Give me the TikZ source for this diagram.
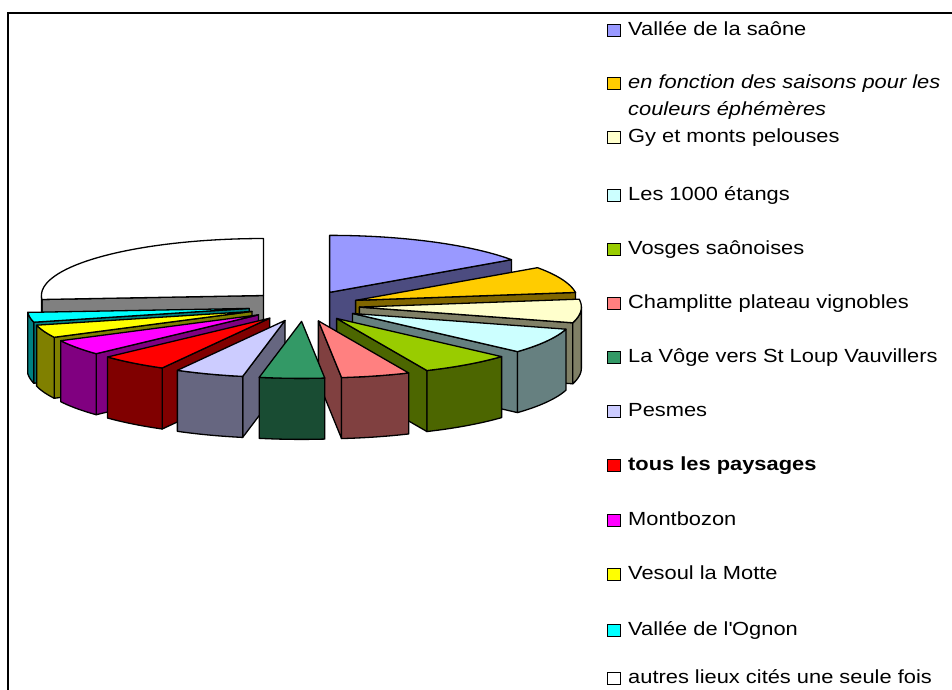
\documentclass[tikz,border=0pt]{standalone}
\usepackage{fontspec}
\setmainfont{Liberation Sans}[FakeStretch=1.15]
\usepackage{tikz}

\definecolor{saone}{HTML}{9999FF}
\definecolor{saisons}{HTML}{FFCC00}
\definecolor{gy}{HTML}{FFFFCC}
\definecolor{etangs}{HTML}{CCFFFF}
\definecolor{vosges}{HTML}{99CC00}
\definecolor{champlitte}{HTML}{FF8080}
\definecolor{voge}{HTML}{339966}
\definecolor{pesmes}{HTML}{CCCCFF}
\definecolor{tous}{HTML}{FF0000}
\definecolor{montbozon}{HTML}{FF00FF}
\definecolor{vesoul}{HTML}{FFFF00}
\definecolor{ognon}{HTML}{00FFFF}
\definecolor{autres}{HTML}{FFFFFF}

\tikzset{
  face/.style={draw=black, line width=1.3pt, line join=round},
  key/.style={draw=black, line width=1.5pt, minimum width=13pt, minimum height=12pt, inner sep=0pt},
  keytext/.style={anchor=base west, inner sep=0pt, font=\fontsize{19}{27}\selectfont}
}

% exploded slice: start angle, end angle (clockwise), colour
\newcommand{\pieslice}[3]{%
  \pgfmathsetmacro{\slm}{(#1+#2)/2}%
  \pgfmathsetmacro{\slx}{304+0.25*222*cos(\slm)}%
  \pgfmathsetmacro{\sly}{306-0.27*57*sin(\slm)}%
  \pgfmathsetmacro{\sllo}{max(#2,-180)}%
  \pgfmathsetmacro{\slhi}{min(#1,0)}%
  \pgfmathtruncatemacro{\slside}{\slhi>\sllo}%
  \pgfmathtruncatemacro{\slstart}{cos(#1)<-0.001}%
  \pgfmathtruncatemacro{\slend}{cos(#2)>0.001}%
  \ifnum\slstart=1
    \filldraw[face, fill=#3!50!black] (\slx,\sly) -- ({\slx+222*cos(#1)},{\sly-57*sin(#1)})
      -- ++(0,61) -- (\slx,{\sly+61}) -- cycle;
  \fi
  \ifnum\slend=1
    \filldraw[face, fill=#3!50!black] (\slx,\sly) -- ({\slx+222*cos(#2)},{\sly-57*sin(#2)})
      -- ++(0,61) -- (\slx,{\sly+61}) -- cycle;
  \fi
  \ifnum\slside=1
    \filldraw[face, fill=#3!50!black] plot[domain=\sllo:\slhi, samples=30] ({\slx+222*cos(\x)},{\sly-57*sin(\x)})
      -- plot[domain=\slhi:\sllo, samples=30] ({\slx+222*cos(\x)},{\sly+61-57*sin(\x)}) -- cycle;
  \fi
  \filldraw[face, fill=#3] (\slx,\sly) -- plot[domain=#1:#2, samples=40] ({\slx+222*cos(\x)},{\sly-57*sin(\x)}) -- cycle;
}

\begin{document}
\begin{tikzpicture}[x=1pt, y=-1pt]
    \useasboundingbox (0,0) rectangle (952,689);
    \clip (0,0) rectangle (952,689);
    \draw[line width=1.5pt] (8,720) -- (8,13) -- (980,13);

    \pieslice{90}{35}{saone}
    \pieslice{-176}{-270}{autres}
    \pieslice{35}{8}{saisons}
    \pieslice{8}{-16}{gy}
    \pieslice{-166}{-176}{ognon}
    \pieslice{-153}{-166}{vesoul}
    \pieslice{-16}{-42}{etangs}
    \pieslice{-137}{-153}{montbozon}
    \pieslice{-119}{-137}{tous}
    \pieslice{-42}{-66}{vosges}
    \pieslice{-101}{-119}{pesmes}
    \pieslice{-66}{-84}{champlitte}
    \pieslice{-84}{-101}{voge}

    \node[key, fill=saone] (kSaone) at (614,30.5) {};
    \node[keytext] (tSaone) at (628,35) {Vallée de la saône};
    \node[key, fill=saisons] (kSaisons) at (614,83.5) {};
    \node[keytext, align=left] (tSaisons) at (628,115) {\itshape en fonction des saisons pour les\\\itshape couleurs éphémères};
    \node[key, fill=gy] (kGy) at (614,137.5) {};
    \node[keytext] (tGy) at (628,142) {Gy et monts pelouses};
    \node[key, fill=etangs] (kEtangs) at (614,195.5) {};
    \node[keytext] (tEtangs) at (628,200) {Les 1000 étangs};
    \node[key, fill=vosges] (kVosges) at (614,249.5) {};
    \node[keytext] (tVosges) at (628,254) {Vosges saônoises};
    \node[key, fill=champlitte] (kChamplitte) at (614,303.5) {};
    \node[keytext] (tChamplitte) at (628,308) {Champlitte plateau vignobles};
    \node[key, fill=voge] (kVoge) at (614,357.5) {};
    \node[keytext] (tVoge) at (628,362) {La Vôge vers St Loup Vauvillers};
    \node[key, fill=pesmes] (kPesmes) at (614,411.5) {};
    \node[keytext] (tPesmes) at (628,416) {Pesmes};
    \node[key, fill=tous] (kTous) at (614,465.5) {};
    \node[keytext] (tTous) at (628,470) {\bfseries tous les paysages};
    \node[key, fill=montbozon] (kMontbozon) at (614,520.5) {};
    \node[keytext] (tMontbozon) at (628,525) {Montbozon};
    \node[key, fill=vesoul] (kVesoul) at (614,574.5) {};
    \node[keytext] (tVesoul) at (628,579) {Vesoul la Motte};
    \node[key, fill=ognon] (kOgnon) at (614,630.5) {};
    \node[keytext] (tOgnon) at (628,635) {Vallée de l\textquotesingle Ognon};
    \node[key, fill=autres] (kAutres) at (614,678.5) {};
    \node[keytext] (tAutres) at (628,683) {autres lieux cités une seule fois};
\end{tikzpicture}
\end{document}
